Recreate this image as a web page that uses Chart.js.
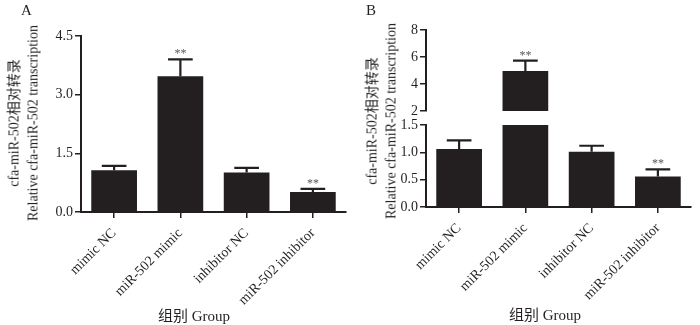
<!DOCTYPE html>
<html><head><meta charset="utf-8">
<script src="https://cdn.jsdelivr.net/npm/chart.js@4"></script>
<style>
body{margin:0;background:#fff;width:700px;height:325px;overflow:hidden;position:relative;font-family:"Liberation Serif","Noto Sans CJK SC",serif;color:#231f20;}
canvas{position:absolute;}
.t{position:absolute;white-space:nowrap;line-height:1;}
.c{position:absolute;white-space:nowrap;line-height:1;transform:translate(-50%,-50%);}
.yt{position:absolute;white-space:nowrap;text-align:center;font-size:14px;line-height:18.5px;transform:translate(-50%,-50%) rotate(-90deg);}
</style></head><body>
<canvas id="cA" width="350" height="325" style="left:0;top:0"></canvas>
<canvas id="cB2" width="350" height="325" style="left:350px;top:0"></canvas>
<canvas id="cB1" width="350" height="125" style="left:350px;top:0"></canvas>
<div class="t" style="left:21px;top:3px;font-size:15px">A</div>
<div class="t" style="left:366px;top:3px;font-size:15px">B</div>
<div class="yt" style="left:24px;top:123px">cfa-miR-502相对转录<br>Relative cfa-miR-502 transcription</div>
<div class="yt" style="left:382px;top:121px">cfa-miR-502相对转录<br>Relative cfa-miR-502 transcription</div>
<div class="c" style="left:194px;top:316px;font-size:15px">组别 Group</div>
<div class="c" style="left:545px;top:315px;font-size:15px">组别 Group</div>
<script>
const categories = ['mimic NC', 'miR-502 mimic', 'inhibitor NC', 'miR-502 inhibitor'];
const meanA = [1.07, 3.47, 1.01, 0.51];
const errA = [0.11, 0.43, 0.12, 0.08];
const sigA = ['', '**', '', '**'];
const meanB = [1.06, 4.96, 1.01, 0.56];
const errB = [0.16, 0.77, 0.11, 0.13];
const sigB = ['', '**', '', '**'];
const ticksA = [0, 1.5, 3.0, 4.5];
const ticksBLow = [0, 0.5, 1.0, 1.5];
const ticksBHigh = [2, 4, 6, 8];

const INK = '#231f20';
const FONT = 'Liberation Serif';

const errPlugin = {
  id: 'errbars',
  afterDatasetsDraw(chart, args, opts) {
    const ctx = chart.ctx, ys = chart.scales.y, a = chart.chartArea;
    const meta = chart.getDatasetMeta(0);
    const vals = chart.data.datasets[0].data;
    ctx.save();
    ctx.beginPath();
    ctx.rect(a.left, a.top - 20, a.right - a.left, a.bottom - a.top + 20);
    ctx.clip();
    meta.data.forEach((bar, i) => {
      const top = vals[i] + opts.err[i];
      if (top > ys.max || top < ys.min) return;
      const y0 = ys.getPixelForValue(vals[i]);
      const y1 = ys.getPixelForValue(top);
      const hw = bar.width * 0.27;
      ctx.strokeStyle = INK;
      ctx.lineWidth = 2.2;
      ctx.beginPath();
      ctx.moveTo(bar.x, y0);
      ctx.lineTo(bar.x, y1);
      ctx.moveTo(bar.x - hw, y1);
      ctx.lineTo(bar.x + hw, y1);
      ctx.stroke();
      if (opts.sig[i]) {
        ctx.fillStyle = '#555';
        ctx.font = '12px "' + FONT + '"';
        ctx.textAlign = 'center';
        ctx.textBaseline = 'alphabetic';
        ctx.fillText(opts.sig[i], bar.x, y1 - 2);
      }
    });
    ctx.restore();
  }
};

function makeChart(id, cfg) {
  return new Chart(document.getElementById(id), {
    type: 'bar',
    data: {
      labels: categories,
      datasets: [{
        data: cfg.values,
        backgroundColor: INK,
        borderWidth: 0,
        barPercentage: 0.69,
        categoryPercentage: 1,
        clip: 0
      }]
    },
    options: {
      responsive: false,
      animation: false,
      devicePixelRatio: 1,
      layout: { padding: cfg.pad },
      plugins: {
        legend: { display: false },
        tooltip: { enabled: false },
        errbars: { err: cfg.err, sig: cfg.sig }
      },
      scales: {
        x: {
          display: cfg.showX,
          offset: true,
          afterFit: s => { s.height = cfg.xHeight; },
          grid: { drawOnChartArea: false, offset: false, tickLength: 6, color: INK, lineWidth: 1.5 },
          border: { display: true, color: INK, width: 2 },
          ticks: { font: { family: FONT, size: 14 }, color: INK, minRotation: 45, maxRotation: 45, padding: 7 }
        },
        y: {
          min: cfg.min, max: cfg.max,
          afterBuildTicks: s => { s.ticks = cfg.ticks.map(v => ({ value: v })); },
          afterFit: s => { s.width = cfg.yWidth; },
          grid: { drawOnChartArea: false, tickLength: 6, color: INK, lineWidth: 1.5 },
          border: { display: true, color: INK, width: 2 },
          ticks: { font: { family: FONT, size: 14 }, color: INK, padding: 2, callback: v => cfg.fmt(v) }
        }
      }
    },
    plugins: [errPlugin]
  });
}

makeChart('cA', {
  values: meanA, err: errA, sig: sigA, ticks: ticksA, min: 0, max: 4.5,
  fmt: v => v.toFixed(1), showX: true,
  pad: { left: 0, top: 36, right: 4, bottom: 0 }, yWidth: 81, xHeight: 113
});
makeChart('cB2', {
  values: meanB, err: errB, sig: sigB, ticks: ticksBLow, min: 0, max: 1.5,
  fmt: v => v.toFixed(1), showX: true,
  pad: { left: 0, top: 125, right: 9, bottom: 0 }, yWidth: 76, xHeight: 118
});
makeChart('cB1', {
  values: meanB, err: errB, sig: sigB, ticks: ticksBHigh, min: 2, max: 8,
  fmt: v => String(v), showX: false,
  pad: { left: 0, top: 30, right: 9, bottom: 14 }, yWidth: 76, xHeight: 0
});
</script>
</body></html>
